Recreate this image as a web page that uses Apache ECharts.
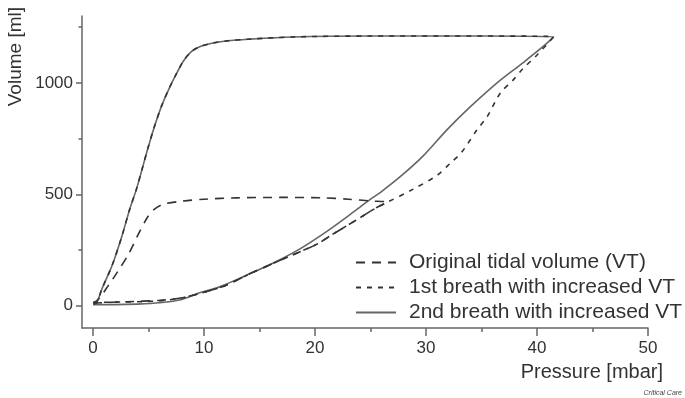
<!DOCTYPE html>
<html><head><meta charset="utf-8">
<script src="https://cdn.jsdelivr.net/npm/echarts@6/dist/echarts.min.js"></script>
<style>html,body{margin:0;padding:0;background:#fff}#c{width:685px;height:398px}</style>
</head><body><div id="c"></div>
<script>
const xMajorTicks = [0, 10, 20, 30, 40, 50];
const xMinorTicks = [5, 15, 25, 35, 45];
const yMajorTicks = [0, 500, 1000];
const yMinorTicks = [250, 750, 1250];
const seriesNames = ['Original tidal volume (VT)', '1st breath with increased VT', '2nd breath with increased VT'];

// [pressure mbar, volume ml]
const originalInsp = [[0,12],[3,18],[6,24],[8,36],[10,60],[12,92],[14.1,143],[16.6,198],[18.6,241],[20.2,277],[21.6,321],[23.4,375],[25.6,442],[26.5,464]];
const originalExp = [[26.5,464],[25,470],[23,478],[20.7,484],[17,486],[13,484],[10,478],[8,469],[6.3,455],[5.5,432],[4.9,397],[4,313],[3.2,232],[2.2,152],[1.35,89],[0.5,30],[0,12]];

const firstInsp = [[0,15],[3,17],[6,22],[8,35],[10,60],[12,92],[14.1,143],[16.6,198],[18.6,241],[20.2,277],[21.6,321],[23.4,375],[25.6,442],[26.5,464],[28.8,522],[31,585],[32.2,640],[33.2,688],[34.6,790],[35.5,848],[36.7,955],[37.8,1010],[38.7,1062],[40,1125],[41.5,1207]];
const firstExp = [[41.5,1207],[35,1210],[25,1210],[18,1206],[14,1196],[12,1188],[10.7,1178],[9.6,1162],[8.8,1138],[8.1,1095],[7.5,1040],[6.9,980],[6.2,900],[5.5,800],[4.9,700],[4.4,610],[3.9,522],[3.3,433],[2.6,313],[1.7,179],[0.8,76],[0.3,12],[0,8]];

const secondInsp = [[0,5],[2,5],[4,7],[6,13],[8,28],[9.6,58],[11.4,85],[14.1,143],[16.6,201],[18.6,254],[21.1,335],[23.2,411],[25,478],[25.9,509],[27.7,580],[29.7,670],[31.9,790],[34,893],[36.4,1000],[38.7,1089],[40.5,1161],[41.5,1207]];
const secondExp = [[41.5,1207],[35,1210],[25,1210],[18,1206],[14,1196],[12,1188],[10.7,1178],[9.6,1162],[8.8,1138],[8.1,1095],[7.5,1040],[6.9,980],[6.2,900],[5.5,800],[4.9,700],[4.4,610],[3.9,522],[3.3,433],[2.6,313],[1.7,179],[0.8,76],[0.3,10],[0,5]];

const FONT = 'Liberation Sans, Arial, sans-serif';
const axisColor = '#666';
const chart = echarts.init(document.getElementById('c'));
chart.setOption({
  animation: false,
  backgroundColor: '#fff',
  grid: { left: 82, right: 37, top: 16, bottom: 70, containLabel: false, outerBoundsMode: 'none' },
  legend: {
    left: 350, top: 247, orient: 'vertical', itemWidth: 40, itemHeight: 14, itemGap: 4,
    data: seriesNames,
    itemStyle: { opacity: 0 },
    textStyle: { fontSize: 21, color: '#333', lineHeight: 20, padding: [0,0,0,8], fontFamily: FONT }
  },
  xAxis: [
    {
      type: 'value', min: -1, max: 50, position: 'bottom',
      axisLine: { show: true, onZero: false, lineStyle: { color: axisColor, width: 1.5 } },
      axisTick: { show: true, length: 8, customValues: xMajorTicks, lineStyle: { color: axisColor, width: 1.5 } },
      axisLabel: { customValues: xMajorTicks, fontSize: 17, color: '#333', margin: 12, fontFamily: FONT, formatter: v => String(v) },
      splitLine: { show: false },
      name: 'Pressure [mbar]', nameLocation: 'end', nameGap: 15,
      nameTextStyle: { fontSize: 20, color: '#333', align: 'right', verticalAlign: 'top', padding: [34,0,0,0], fontFamily: FONT }
    },
    {
      type: 'value', min: -1, max: 50, position: 'bottom',
      axisLine: { show: false, onZero: false },
      axisTick: { show: true, length: 4, customValues: xMinorTicks, lineStyle: { color: axisColor, width: 1.5 } },
      axisLabel: { show: false },
      splitLine: { show: false }
    }
  ],
  yAxis: [
    {
      type: 'value', min: -100, max: 1300, position: 'left',
      axisLine: { show: true, onZero: false, lineStyle: { color: axisColor, width: 1.5 } },
      axisTick: { show: true, length: 6, customValues: yMajorTicks, lineStyle: { color: axisColor, width: 1.5 } },
      axisLabel: { customValues: yMajorTicks, fontSize: 17, color: '#333', margin: 9, fontFamily: FONT, formatter: v => String(v) },
      splitLine: { show: false },
      name: 'Volume [ml]', nameLocation: 'end', nameRotate: 90, nameGap: 9,
      nameTextStyle: { fontSize: 19, color: '#333', align: 'right', verticalAlign: 'bottom', padding: [0,0,57,0], fontFamily: FONT }
    },
    {
      type: 'value', min: -100, max: 1300, position: 'left',
      axisLine: { show: false, onZero: false },
      axisTick: { show: true, length: 3.5, customValues: yMinorTicks, lineStyle: { color: axisColor, width: 1.5 } },
      axisLabel: { show: false },
      splitLine: { show: false }
    }
  ],
  series: [
    {
      name: seriesNames[2], type: 'line', xAxisIndex: 0, yAxisIndex: 0, symbol: 'none', smooth: 0.3,
      data: secondInsp.concat(secondExp), z: 2,
      lineStyle: { color: '#666', width: 1.6, type: 'solid' }, itemStyle: { color: '#666' }
    },
    {
      name: seriesNames[1], type: 'line', xAxisIndex: 0, yAxisIndex: 0, symbol: 'none', smooth: 0.3,
      data: firstInsp.concat(firstExp), z: 3,
      lineStyle: { color: '#333', width: 1.6, type: [5, 6] }, itemStyle: { color: '#333' }
    },
    {
      name: seriesNames[0], type: 'line', xAxisIndex: 0, yAxisIndex: 0, symbol: 'none', smooth: 0.3,
      data: originalInsp.concat(originalExp), z: 4,
      lineStyle: { color: '#333', width: 1.6, type: [9, 7] }, itemStyle: { color: '#333' }
    }
  ],
  graphic: [
    { type: 'text', right: 3, bottom: 1, style: { text: 'Critical Care', font: 'italic 7px ' + FONT, fill: '#444' } }
  ]
});
</script>
</body></html>
